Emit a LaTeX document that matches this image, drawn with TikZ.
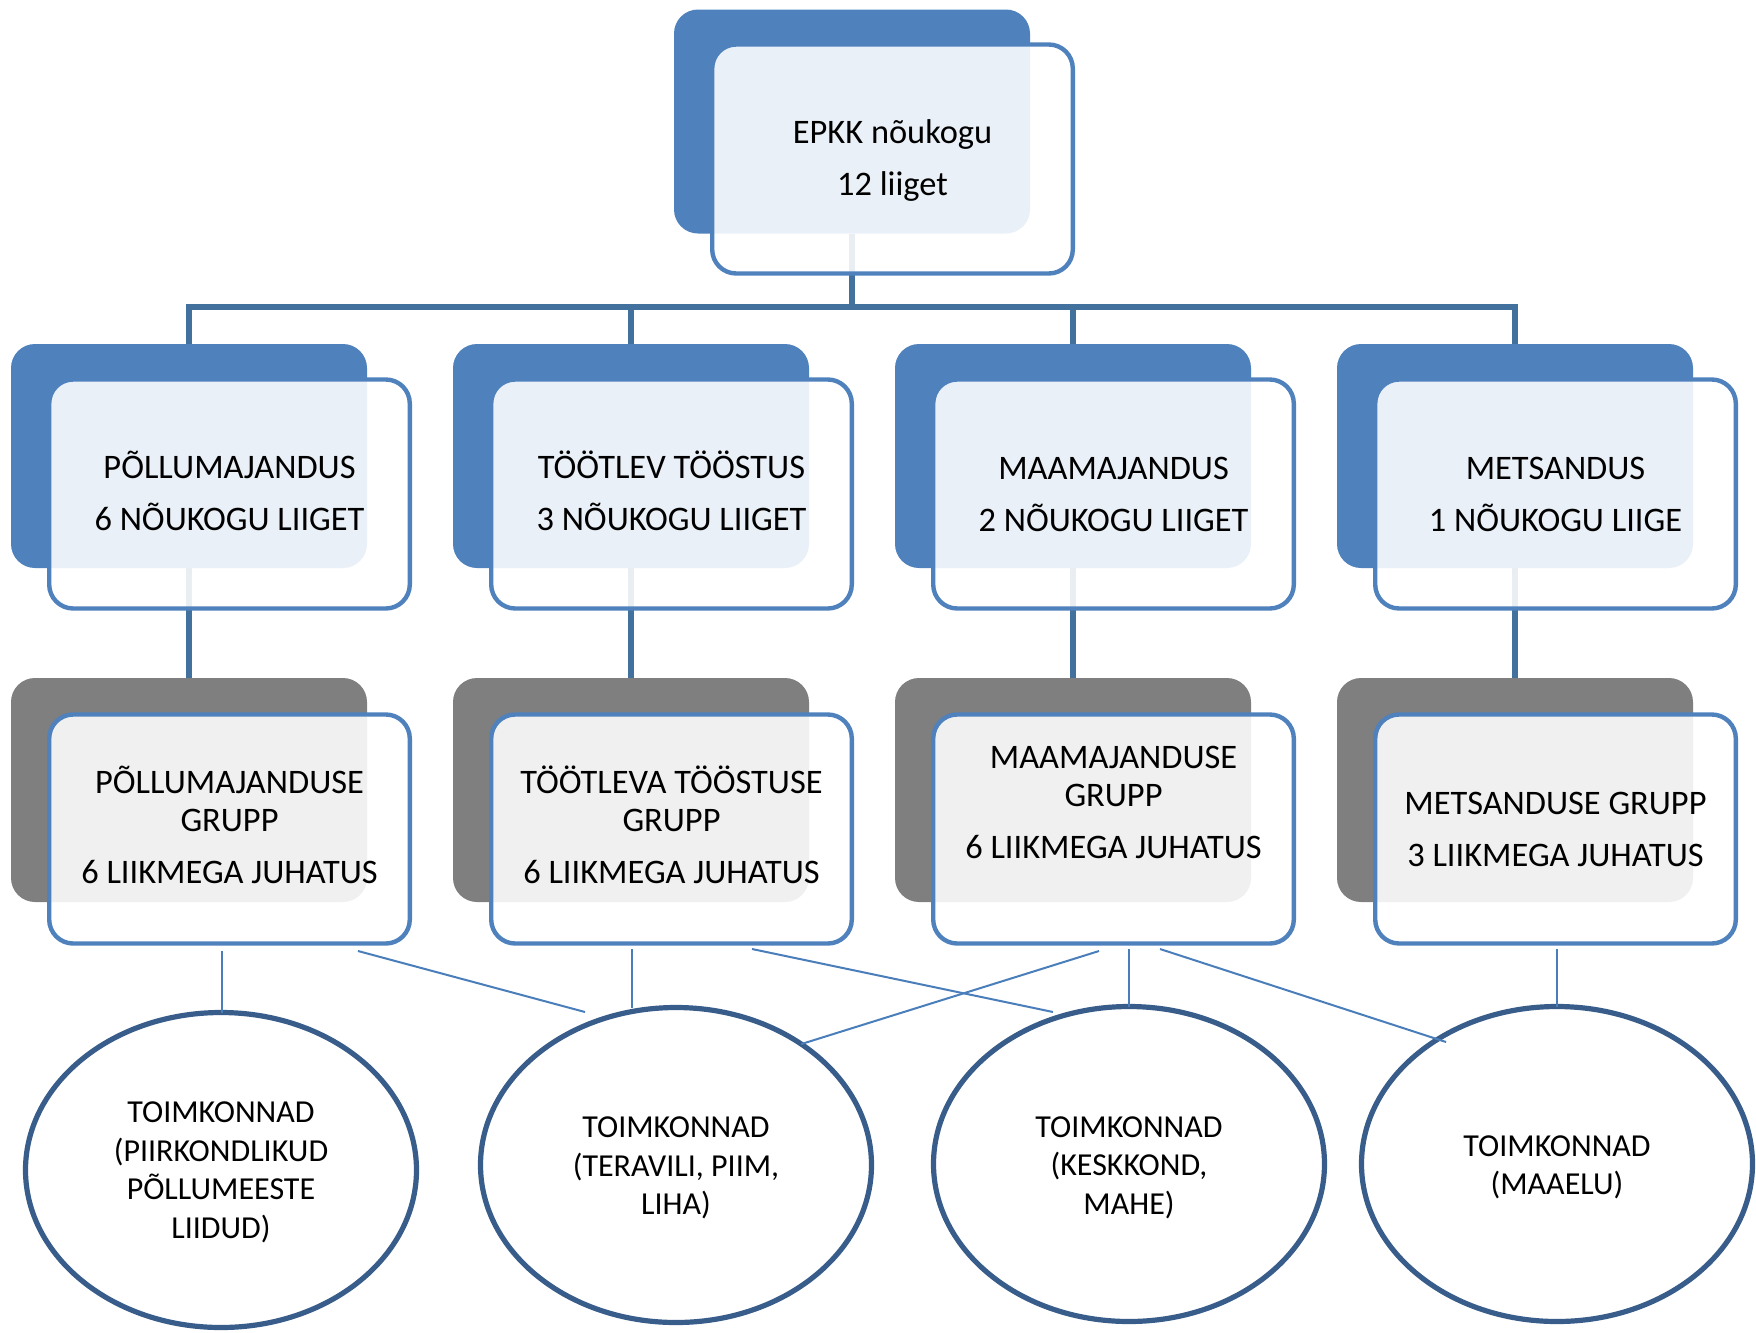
\documentclass[tikz,border=0pt]{standalone}
\usepackage{fontspec}
\setmainfont{Carlito}
\usetikzlibrary{shapes.geometric}
\definecolor{cblue}{HTML}{4F81BD}
\definecolor{cgray}{HTML}{7F7F7F}
\definecolor{cbus}{HTML}{41719C}
\definecolor{cthin}{HTML}{4A7EBB}
\definecolor{cell}{HTML}{385D8A}
\begin{document}
\begin{tikzpicture}[x=0.5pt,y=-0.5pt,
 backbox/.style={rectangle, rounded corners=12pt, minimum width=178pt, minimum height=112pt, inner sep=0pt, outer sep=0pt},
 bluebox/.style={backbox, fill=cblue},
 graybox/.style={backbox, fill=cgray},
 frontbox/.style={rectangle, rounded corners=12pt, draw=cblue, line width=2.2pt, fill=white, fill opacity=0.885, draw opacity=1, text opacity=1, minimum width=180.3pt, minimum height=114.5pt, inner sep=0pt, outer sep=0pt},
 boxtext/.style={inner sep=0pt, align=center, font=\fontsize{17.2}{19}\selectfont},
 bus/.style={draw=cbus, line width=2.6pt},
 oval/.style={ellipse, draw=cell, line width=2.6pt, fill=white, minimum width=195.5pt, minimum height=157.5pt, inner sep=0pt, outer sep=0pt},
 ovaltext/.style={inner sep=0pt, align=center, font=\fontsize{16}{19.25}\selectfont},
 thinline/.style={draw=cthin, line width=1pt}]
\useasboundingbox (0,0) rectangle (1756,1333);
% back shapes
\node[bluebox] (topb) at (852,121.5) {};
\node[bluebox] (ab) at (189,456) {};
\node[bluebox] (bb) at (631,456) {};
\node[bluebox] (cb) at (1073,456) {};
\node[bluebox] (db) at (1515,456) {};
\node[graybox] (agb) at (189,790) {};
\node[graybox] (bgb) at (631,790) {};
\node[graybox] (cgb) at (1073,790) {};
\node[graybox] (dgb) at (1515,790) {};
% bus coordinates
\coordinate (busm) at (852,307);
\coordinate (bus1) at (189,307);
\coordinate (bus2) at (631,307);
\coordinate (bus3) at (1073,307);
\coordinate (bus4) at (1515,307);
% thick connectors
\draw[bus] (topb.south) -- (busm);
\draw[bus] (ab.north) -- (bus1) -- (bus4) -- (db.north);
\draw[bus] (bb.north) -- (bus2);
\draw[bus] (cb.north) -- (bus3);
\draw[bus] (ab.south) -- (agb.north);
\draw[bus] (bb.south) -- (bgb.north);
\draw[bus] (cb.south) -- (cgb.north);
\draw[bus] (db.south) -- (dgb.north);
% front shapes
\node[frontbox] (topf) at (892.5,159) {};
\node[frontbox] (af) at (229.5,494) {};
\node[frontbox] (bf) at (671.5,494) {};
\node[frontbox] (cf) at (1113.5,494) {};
\node[frontbox] (df) at (1555.5,494) {};
\node[frontbox] (agf) at (229.5,829) {};
\node[frontbox] (bgf) at (671.5,829) {};
\node[frontbox] (cgf) at (1113.5,829) {};
\node[frontbox] (dgf) at (1555.5,829) {};
% box texts
\node[boxtext] (topt) at (892.5,161) {EPKK nõukogu\\[7pt]12 liiget};
\node[boxtext] (at) at (229.5,490.5) {PÕLLUMAJANDUS\\[7pt]6 NÕUKOGU LIIGET};
\node[boxtext] (bt) at (671.5,490.5) {TÖÖTLEV TÖÖSTUS\\[7pt]3 NÕUKOGU LIIGET};
\node[boxtext] (ct) at (1113.5,494) {MAAMAJANDUS\\[7pt]2 NÕUKOGU LIIGET};
\node[boxtext] (dt) at (1555.5,494) {METSANDUS\\[7pt]1 NÕUKOGU LIIGE};
\node[boxtext] (agt) at (229.5,824.5) {PÕLLUMAJANDUSE\\GRUPP\\[7pt]6 LIIKMEGA JUHATUS};
\node[boxtext] (bgt) at (671.5,824.5) {TÖÖTLEVA TÖÖSTUSE\\GRUPP\\[7pt]6 LIIKMEGA JUHATUS};
\node[boxtext] (cgt) at (1113.5,802) {MAAMAJANDUSE\\GRUPP\\[7pt]6 LIIKMEGA JUHATUS};
\node[boxtext] (dgt) at (1555.5,829) {METSANDUSE GRUPP\\[7pt]3 LIIKMEGA JUHATUS};
% ellipses
\node[oval] (e1) at (221,1170) {};
\node[oval] (e2) at (676,1165) {};
\node[oval] (e3) at (1129,1164) {};
\node[oval] (e4) at (1557,1164) {};
\node[ovaltext] (e1t) at (221,1172.5) {TOIMKONNAD\\(PIIRKONDLIKUD\\PÕLLUMEESTE\\LIIDUD)};
\node[ovaltext] (e2t) at (676,1168) {TOIMKONNAD\\(TERAVILI, PIIM,\\LIHA)};
\node[ovaltext] (e3t) at (1129,1167.5) {TOIMKONNAD\\(KESKKOND,\\MAHE)};
\node[ovaltext] (e4t) at (1557,1167.5) {TOIMKONNAD\\(MAAELU)};
% thin connector ends
\coordinate (s1) at (222,951);
\coordinate (s1b) at (358,951);
\coordinate (t1b) at (585,1012);
\coordinate (s2) at (632,949);
\coordinate (s2b) at (752,949);
\coordinate (t2b) at (1053,1012);
\coordinate (s3a) at (1099,951);
\coordinate (s3) at (1129,949);
\coordinate (s3b) at (1160,949);
\coordinate (t3b) at (1446,1042);
\coordinate (s4) at (1557,949);
\draw[thinline] (s1) -- (s1 |- e1.north);
\draw[thinline] (s1b) -- (t1b);
\draw[thinline] (s2) -- (s2 |- e2.north);
\draw[thinline] (s2b) -- (t2b);
\draw[thinline] (s3a) -- (e2.44);
\draw[thinline] (s3) -- (e3.north);
\draw[thinline] (s3b) -- (t3b);
\draw[thinline] (s4) -- (e4.north);
\end{tikzpicture}
\end{document}
